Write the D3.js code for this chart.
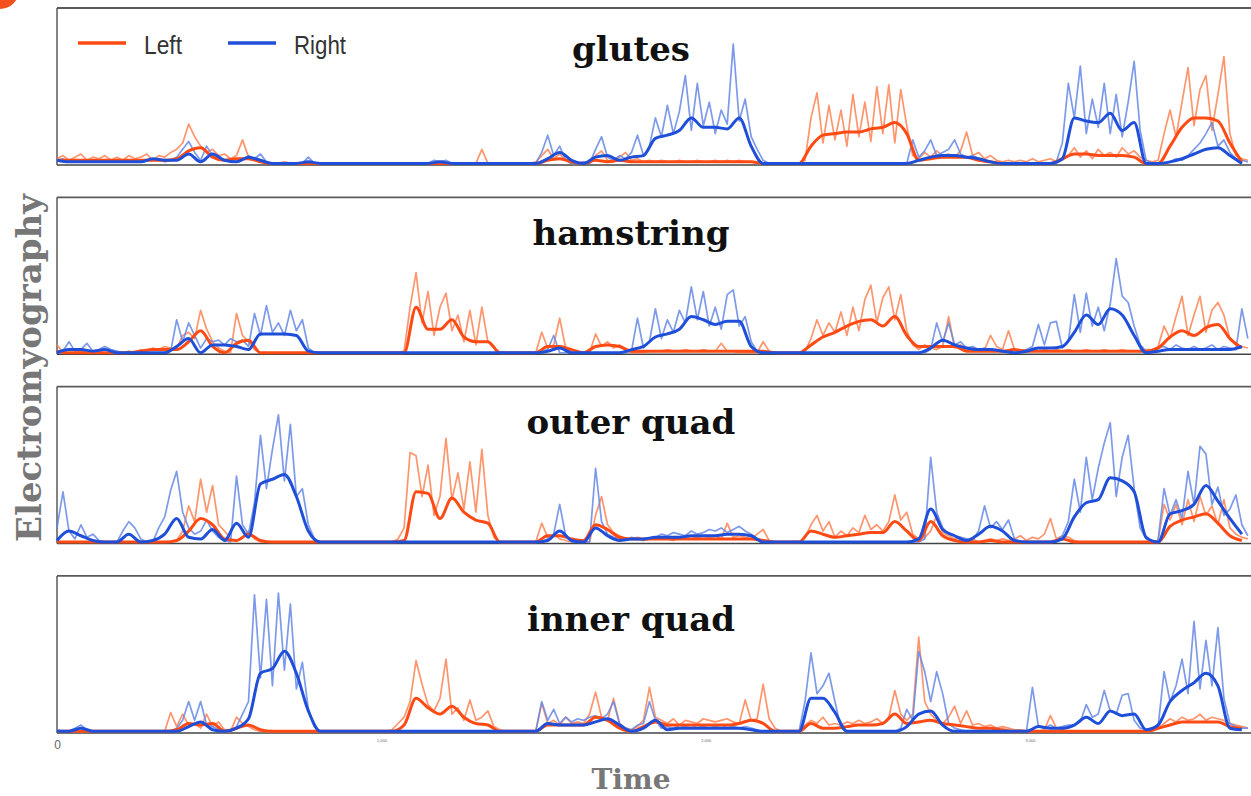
<!DOCTYPE html>
<html>
<head>
<meta charset="utf-8">
<script src="https://cdn.jsdelivr.net/npm/d3@7/dist/d3.min.js"></script>
<style>
  body { margin: 0; background: #fff; }
  svg { display: block; }
</style>
</head>
<body>
<div id="chart"></div>
<script>
// muscles, sides and time ticks
const muscles = ["glutes", "hamstring", "outer quad", "inner quad"];
const sides = ["Left", "Right"];
const timeTicks = [0, 1000, 2000, 3000];
const SAMPLE_MS = 18.45;        // raw sampling step, envelope uses every 2nd step

// raw EMG (200 samples each), values in % of panel height
const glutesLeftRaw = [
  4,6,3,5,7,3,5,4,6,3, 5,3,6,4,5,7,3,6,5,8, 10,14,26,18,12,8,10,6,7,4, 6,16,5,4,3,2,1,1,2,1,
  1,1,1,1,1,1,1,1,1,1, 1,1,1,1,1,1,1,1,1,1, 1,1,1,1,1,1,1,1,1,1, 1,10,1,1,1,1,1,1,1,1,
  2,6,10,4,7,3,1,1,2,1, 6,9,3,2,5,8,3,4,2,3, 2,3,2,2,3,2,2,3,2,2, 3,2,3,2,3,2,2,1,1,1,
  1,1,1,1,1,3,30,46,14,38, 16,35,12,45,18,40,15,50,20,51, 14,48,25,6,4,8,5,9,6,7, 5,9,21,6,8,4,6,3,2,3,
  2,3,2,4,2,3,4,2,3,6, 11,5,9,4,10,6,8,5,11,7, 9,5,3,2,3,20,35,18,40,62, 25,48,57,22,45,69,20,6,4,3
];
const glutesRightRaw = [
  3,4,2,3,2,3,2,2,3,2, 2,3,2,3,2,3,3,4,2,3, 5,10,15,8,3,12,6,5,3,2, 2,3,6,4,7,2,1,1,1,1,
  1,1,5,1,1,1,1,1,1,1, 1,1,1,1,1,1,1,1,1,1, 1,1,1,3,2,3,1,1,1,1, 1,1,1,1,1,1,1,1,1,1,
  1,8,19,6,12,3,1,1,2,1, 10,18,5,3,6,4,8,19,6,12, 30,18,38,20,34,57,22,52,25,40, 20,35,26,77,28,42,18,10,3,1,
  1,1,1,1,1,1,1,1,1,1, 1,1,1,1,1,1,1,1,1,1, 1,1,1,16,5,9,16,6,8,10, 16,7,5,6,4,3,2,1,1,1,
  1,1,1,1,1,1,1,2,14,52, 30,63,20,42,24,52,20,45,18,40, 66,22,3,1,1,1,2,4,3,6, 10,14,20,27,12,16,8,4,3,2
];
const hamstringLeftRaw = [
  6,1,1,1,2,1,1,1,1,1, 1,1,2,1,3,2,4,3,5,4, 4,12,14,10,28,16,8,4,2,1, 26,12,8,3,1,1,1,1,1,1,
  1,1,1,1,1,1,1,1,1,1, 1,1,1,1,1,1,1,1,2,30, 52,20,40,12,30,39,15,25,8,28, 6,30,8,4,1,1,1,1,1,1,
  1,14,4,6,23,4,1,1,1,1, 13,5,8,4,6,3,1,1,1,2, 2,2,3,2,2,3,2,2,3,2, 2,7,2,2,1,1,1,1,8,2,
  1,1,1,1,1,2,10,22,12,20, 14,27,12,30,15,35,44,20,36,43, 22,38,15,6,3,6,4,3,5,24, 4,6,3,4,2,3,12,5,3,15,
  3,2,3,2,2,3,2,3,2,3, 2,2,3,2,2,3,2,2,3,2, 2,2,3,3,5,18,10,24,37,12, 25,37,14,28,33,25,10,6,5,4
];
const hamstringRightRaw = [
  1,2,8,2,3,7,2,3,5,3, 2,1,1,1,1,1,1,1,1,2, 22,8,20,12,4,10,8,9,6,10, 8,9,5,26,12,31,14,20,12,28,
  15,22,4,1,1,1,1,1,1,1, 1,1,1,1,1,1,1,1,1,1, 1,1,1,1,1,1,1,1,1,1, 1,1,1,1,1,1,1,1,1,1,
  1,2,3,12,1,1,1,1,1,1, 1,1,1,1,1,1,2,23,4,8, 29,10,22,14,28,20,43,22,40,18, 30,16,38,41,18,24,8,2,1,1,
  1,1,1,1,1,1,1,1,1,1, 1,1,1,1,1,1,1,1,1,1, 1,1,1,1,1,1,3,20,8,20, 6,8,4,5,3,4,2,3,2,2,
  1,2,3,5,19,6,20,21,4,8, 38,14,39,18,30,15,32,61,37,33, 18,6,2,2,4,5,3,6,4,3, 5,3,4,6,3,5,4,3,29,10
];
const outerLeftRaw = [
  1,1,1,1,1,1,1,1,1,1, 1,1,1,1,1,1,1,1,1,1, 2,8,24,14,41,20,37,12,8,3, 2,4,8,3,1,1,1,1,1,1,
  1,1,1,1,1,1,1,1,1,1, 1,1,1,1,1,1,1,3,10,58, 56,30,50,18,30,67,28,45,22,52, 20,60,18,4,1,1,1,1,1,1,
  1,13,4,6,3,2,1,1,1,1, 18,30,12,7,5,3,3,4,2,3, 3,4,3,2,4,3,3,4,3,4, 5,3,13,4,5,4,3,6,9,2,
  1,1,1,1,1,4,12,18,8,14, 4,8,5,10,7,18,9,12,8,14, 31,15,20,6,3,4,8,18,7,5, 3,4,2,3,1,2,3,2,3,2,
  3,5,2,4,3,6,16,3,5,4, 2,1,1,1,1,1,1,1,1,1, 1,1,1,1,2,25,15,25,12,28, 14,30,18,24,12,28,10,6,4,3
];
const outerRightRaw = [
  10,33,8,3,12,4,6,2,1,1, 1,8,14,10,3,1,1,10,17,34, 46,20,10,6,8,15,8,4,2,1, 43,12,6,26,69,35,60,82,40,76,
  30,35,12,3,1,1,1,1,1,1, 1,1,1,1,1,1,1,1,1,1, 1,1,1,1,1,1,1,1,1,1, 1,1,1,1,1,1,1,1,1,1,
  1,1,3,6,25,5,1,1,1,1, 48,14,6,4,3,2,4,3,2,3, 4,6,5,7,6,5,8,6,7,9, 8,10,7,9,11,8,6,3,1,1,
  1,1,1,1,1,1,1,1,1,1, 1,1,1,1,1,1,1,1,1,1, 1,1,1,1,1,3,55,20,10,6, 5,4,3,2,8,24,10,14,9,15,
  3,1,1,1,1,1,1,2,5,14, 41,20,55,28,48,64,77,30,55,69, 35,10,3,1,2,35,18,28,16,46, 25,62,57,25,36,18,22,31,12,5
];
const innerLeftRaw = [
  1,1,1,1,1,1,1,1,1,1, 1,1,1,1,1,1,1,1,1,13, 4,12,5,6,3,12,4,7,2,1, 10,6,4,2,1,1,1,1,1,1,
  1,1,1,1,1,1,1,1,1,1, 1,1,1,1,1,1,2,6,10,20, 46,31,18,14,22,47,12,16,8,21, 8,10,14,4,2,1,1,1,1,1,
  1,19,6,8,5,10,6,7,6,12, 26,10,8,22,6,3,2,4,8,29, 10,8,6,9,5,8,7,6,9,8, 7,8,9,7,6,21,8,9,31,9,
  3,1,1,1,1,5,8,6,10,5, 6,5,7,6,8,6,7,9,6,10, 27,12,8,12,61,20,12,8,6,10, 17,6,14,5,6,4,5,3,4,3,
  2,2,1,1,1,2,11,3,2,1, 1,1,1,1,1,1,1,1,1,1, 1,1,1,1,3,6,9,7,10,8, 9,12,8,10,9,8,6,5,4,3
];
const innerRightRaw = [
  2,1,1,3,5,2,1,1,1,1, 1,1,1,1,1,1,1,1,1,1, 3,8,20,8,20,5,4,2,1,1, 4,12,20,88,35,85,30,89,40,82,
  28,45,15,4,1,1,1,1,1,1, 1,1,1,1,1,1,1,1,1,1, 1,1,1,1,1,1,1,1,1,1, 1,1,1,1,1,1,1,1,1,1,
  1,20,8,15,6,10,7,9,8,10, 11,9,12,20,6,3,2,5,6,20, 8,3,4,3,5,4,3,5,4,3, 4,3,5,4,3,4,3,2,1,1,
  1,1,1,1,1,20,51,25,30,38, 20,3,1,1,1,1,1,1,1,1, 1,3,15,8,52,39,20,39,25,6, 3,2,1,1,1,1,1,1,1,1,
  1,1,1,29,4,3,5,3,4,5, 5,7,18,10,12,27,14,12,24,25, 8,3,2,2,4,39,20,30,47,25, 71,28,59,30,67,22,6,4,3,3
];

// smoothed envelopes (100 samples each)
const glutesLeftEnv = [
  3,3,3,3,3,3,3,3,3,3, 4,9,11,5,3,4,4,2,1,1, 1,1,1,1,1,1,1,1,1,1, 1,1,1,1,1,1,1,1,1,1,
  1,3,4,2,1,3,2,3,2,2, 2,2,2,2,2,2,2,2,2,1, 1,1,1,12,19,20,21,21,23,24, 27,20,3,4,5,5,5,3,2,1,
  1,1,1,1,4,7,7,6,6,6, 5,1,1,12,24,30,30,28,14,2
];
const glutesRightEnv = [
  3,2,2,2,2,2,2,2,4,3, 3,7,2,7,3,2,5,3,1,1, 1,2,1,1,1,1,1,1,1,1, 1,1,2,1,1,1,1,1,1,1,
  1,4,8,3,1,5,6,3,5,6, 17,19,22,30,24,24,23,30,12,1, 1,1,1,1,1,1,1,1,1,1, 1,1,3,5,6,6,5,4,2,1,
  1,1,1,1,4,30,28,27,33,22, 27,1,1,2,4,7,10,11,6,1
];
const hamstringLeftEnv = [
  2,1,1,1,1,1,1,2,3,3, 3,8,15,5,1,7,9,1,1,1, 1,1,1,1,1,1,1,1,1,1, 30,16,16,22,11,8,8,1,1,1,
  1,5,5,3,1,5,6,5,2,2, 2,2,2,2,2,2,2,2,2,2, 1,1,1,6,11,14,18,21,22,18, 24,12,5,5,5,5,2,2,2,2,
  3,2,2,2,2,2,2,2,2,2, 2,2,4,11,15,12,17,19,10,4
];
const hamstringRightEnv = [
  1,3,3,2,3,1,1,1,1,1, 5,10,1,6,6,5,3,13,13,13, 12,2,1,1,1,1,1,1,1,1, 1,1,1,1,1,1,1,1,1,1,
  1,2,4,1,1,1,1,1,3,5, 11,13,16,24,22,19,21,21,5,1, 1,1,1,1,1,1,1,1,1,1, 1,1,1,4,9,6,4,3,3,2,
  1,2,4,4,5,14,25,19,29,25, 12,1,2,3,3,3,3,3,3,5
];
const outerLeftEnv = [
  1,1,1,1,1,1,1,1,1,1, 2,8,16,12,3,2,6,2,1,1, 1,1,1,1,1,1,1,1,1,2, 33,32,16,29,20,15,13,1,1,1,
  1,5,5,3,2,12,9,4,3,3, 3,3,3,3,3,3,3,3,3,2, 1,1,1,8,6,4,5,6,7,7, 14,8,2,14,5,2,1,1,2,1,
  1,1,1,1,3,1,1,1,1,1, 1,1,1,11,15,17,19,13,5,2
];
const outerRightEnv = [
  2,8,5,2,1,1,6,1,2,6, 16,4,3,9,2,13,4,38,41,44, 30,8,1,1,1,1,1,1,1,1, 1,1,1,1,1,1,1,1,1,1,
  1,2,8,2,1,10,5,2,3,3, 4,4,4,5,5,5,6,6,5,1, 1,1,1,1,1,1,1,1,1,1, 1,1,3,22,9,5,2,6,11,8,
  2,1,1,1,3,17,26,28,42,40, 33,4,1,19,21,25,37,27,16,6
];
const innerLeftEnv = [
  1,1,1,1,1,1,1,1,1,1, 2,6,5,6,1,3,5,2,1,1, 1,1,1,1,1,1,1,1,1,5, 22,16,12,17,10,6,5,1,1,1,
  1,5,5,5,5,10,8,3,1,4, 7,5,5,5,5,5,5,6,8,6, 1,1,1,6,3,3,4,5,5,6, 12,6,7,8,6,5,4,3,3,2,
  1,1,1,1,1,1,1,1,1,1, 1,1,3,5,7,7,7,7,4,3
];
const innerRightEnv = [
  1,1,3,1,1,1,1,1,1,1, 1,4,7,2,1,3,9,38,41,52, 38,14,1,1,1,1,1,1,1,1, 1,1,1,1,1,1,1,1,1,1,
  1,6,5,5,5,7,9,5,1,3, 8,2,3,3,3,3,3,3,2,1, 1,1,1,22,22,13,1,1,1,1, 1,4,12,14,5,1,1,1,1,1,
  1,1,4,3,3,5,10,6,14,11, 12,2,5,20,27,32,38,30,3,2
];

const rawData = [
  {Left: glutesLeftRaw, Right: glutesRightRaw},
  {Left: hamstringLeftRaw, Right: hamstringRightRaw},
  {Left: outerLeftRaw, Right: outerRightRaw},
  {Left: innerLeftRaw, Right: innerRightRaw}
];
const envData = [
  {Left: glutesLeftEnv, Right: glutesRightEnv},
  {Left: hamstringLeftEnv, Right: hamstringRightEnv},
  {Left: outerLeftEnv, Right: outerRightEnv},
  {Left: innerLeftEnv, Right: innerRightEnv}
];

const width = 1251, height = 796;
const plotLeft = 57, plotRight = 1248;
const panelStep = 189.3, panelHeight = 157, firstTop = 8;
const titleDy = [53, 48, 47, 55];

const rawColor = {Left: "#ff8254", Right: "#6688e6"};
const envColor = {Left: "#ff4a14", Right: "#1f4fd8"};

const svg = d3.select("#chart").append("svg")
    .attr("width", width)
    .attr("height", height);

// little orange badge cut off in the corner
svg.append("circle")
    .attr("cx", 0).attr("cy", -10).attr("r", 19)
    .attr("fill", "#f4511e");

const x = d3.scaleLinear()
    .domain([0, 3672])
    .range([plotLeft, plotRight]);

const y = d3.scaleLinear()
    .domain([0, 100])
    .range([panelHeight, 0]);

const rawLine = d3.line()
    .x((d, i) => x(i * SAMPLE_MS))
    .y(d => y(d));

const envLine = d3.line()
    .x((d, i) => x(i * 2 * SAMPLE_MS))
    .y(d => y(d))
    .curve(d3.curveMonotoneX);

muscles.forEach((name, k) => {
    const g = svg.append("g")
        .attr("transform", `translate(0,${firstTop + k * panelStep})`);

    // frame
    g.append("line")
        .attr("x1", plotLeft).attr("x2", width + 5)
        .attr("y1", 0).attr("y2", 0)
        .attr("stroke", "#5a5a5a").attr("stroke-width", 1.8);
    g.append("line")
        .attr("x1", plotLeft).attr("x2", plotLeft)
        .attr("y1", 0).attr("y2", panelHeight)
        .attr("stroke", "#5a5a5a").attr("stroke-width", 1.5);
    g.append("line")
        .attr("x1", plotLeft).attr("x2", width + 5)
        .attr("y1", panelHeight).attr("y2", panelHeight)
        .attr("stroke", "#444").attr("stroke-width", 1.5);

    // raw signals
    sides.forEach(s => {
        g.append("path")
            .datum(rawData[k][s])
            .attr("fill", "none")
            .attr("stroke", rawColor[s])
            .attr("stroke-width", 1.7)
            .attr("stroke-opacity", 0.85)
            .attr("stroke-linejoin", "round")
            .attr("d", rawLine);
    });

    // envelopes
    sides.forEach(s => {
        g.append("path")
            .datum(envData[k][s])
            .attr("fill", "none")
            .attr("stroke", envColor[s])
            .attr("stroke-width", 3)
            .attr("stroke-linejoin", "round")
            .attr("d", envLine);
    });

    g.append("text")
        .attr("x", 631)
        .attr("y", titleDy[k])
        .attr("text-anchor", "middle")
        .style("font-family", "'DejaVu Serif', serif")
        .style("font-weight", "bold")
        .style("font-size", "34px")
        .style("fill", "#111")
        .text(name);
});

// legend
const legend = svg.append("g").attr("transform", `translate(78,${firstTop + 35})`);
const legendX = [0, 150];
const legendTextW = [38, 52];
sides.forEach((s, i) => {
    legend.append("line")
        .attr("x1", legendX[i]).attr("x2", legendX[i] + 48)
        .attr("y1", 0).attr("y2", 0)
        .attr("stroke", envColor[s]).attr("stroke-width", 3.5);
    legend.append("text")
        .attr("x", legendX[i] + 66)
        .attr("y", 11)
        .attr("textLength", legendTextW[i])
        .attr("lengthAdjust", "spacingAndGlyphs")
        .style("font-family", "'Liberation Sans', Arial, sans-serif")
        .style("font-size", "25px")
        .style("fill", "#333")
        .text(s);
});

// time axis ticks (only the first is readable in the original)
const xAxis = svg.append("g")
    .attr("transform", `translate(0,${firstTop + 3 * panelStep + panelHeight})`)
    .call(d3.axisBottom(x).tickValues(timeTicks).tickSize(0).tickPadding(8));
xAxis.select(".domain").remove();
xAxis.selectAll("text")
    .style("font-family", "'Liberation Sans', Arial, sans-serif")
    .style("fill", "#666")
    .style("font-size", d => d === 0 ? "12px" : "4px")
    .attr("dy", d => d === 0 ? "0.71em" : "0.2em");

svg.append("text")
    .attr("x", 631)
    .attr("y", 789)
    .attr("text-anchor", "middle")
    .style("font-family", "'DejaVu Serif', serif")
    .style("font-weight", "bold")
    .style("font-size", "28px")
    .style("fill", "#777")
    .text("Time");

svg.append("text")
    .attr("transform", "translate(41,368) rotate(-90)")
    .attr("text-anchor", "middle")
    .style("font-family", "'DejaVu Serif', serif")
    .style("font-weight", "bold")
    .style("font-size", "34px")
    .style("fill", "#777")
    .text("Electromyography");
</script>
</body>
</html>
